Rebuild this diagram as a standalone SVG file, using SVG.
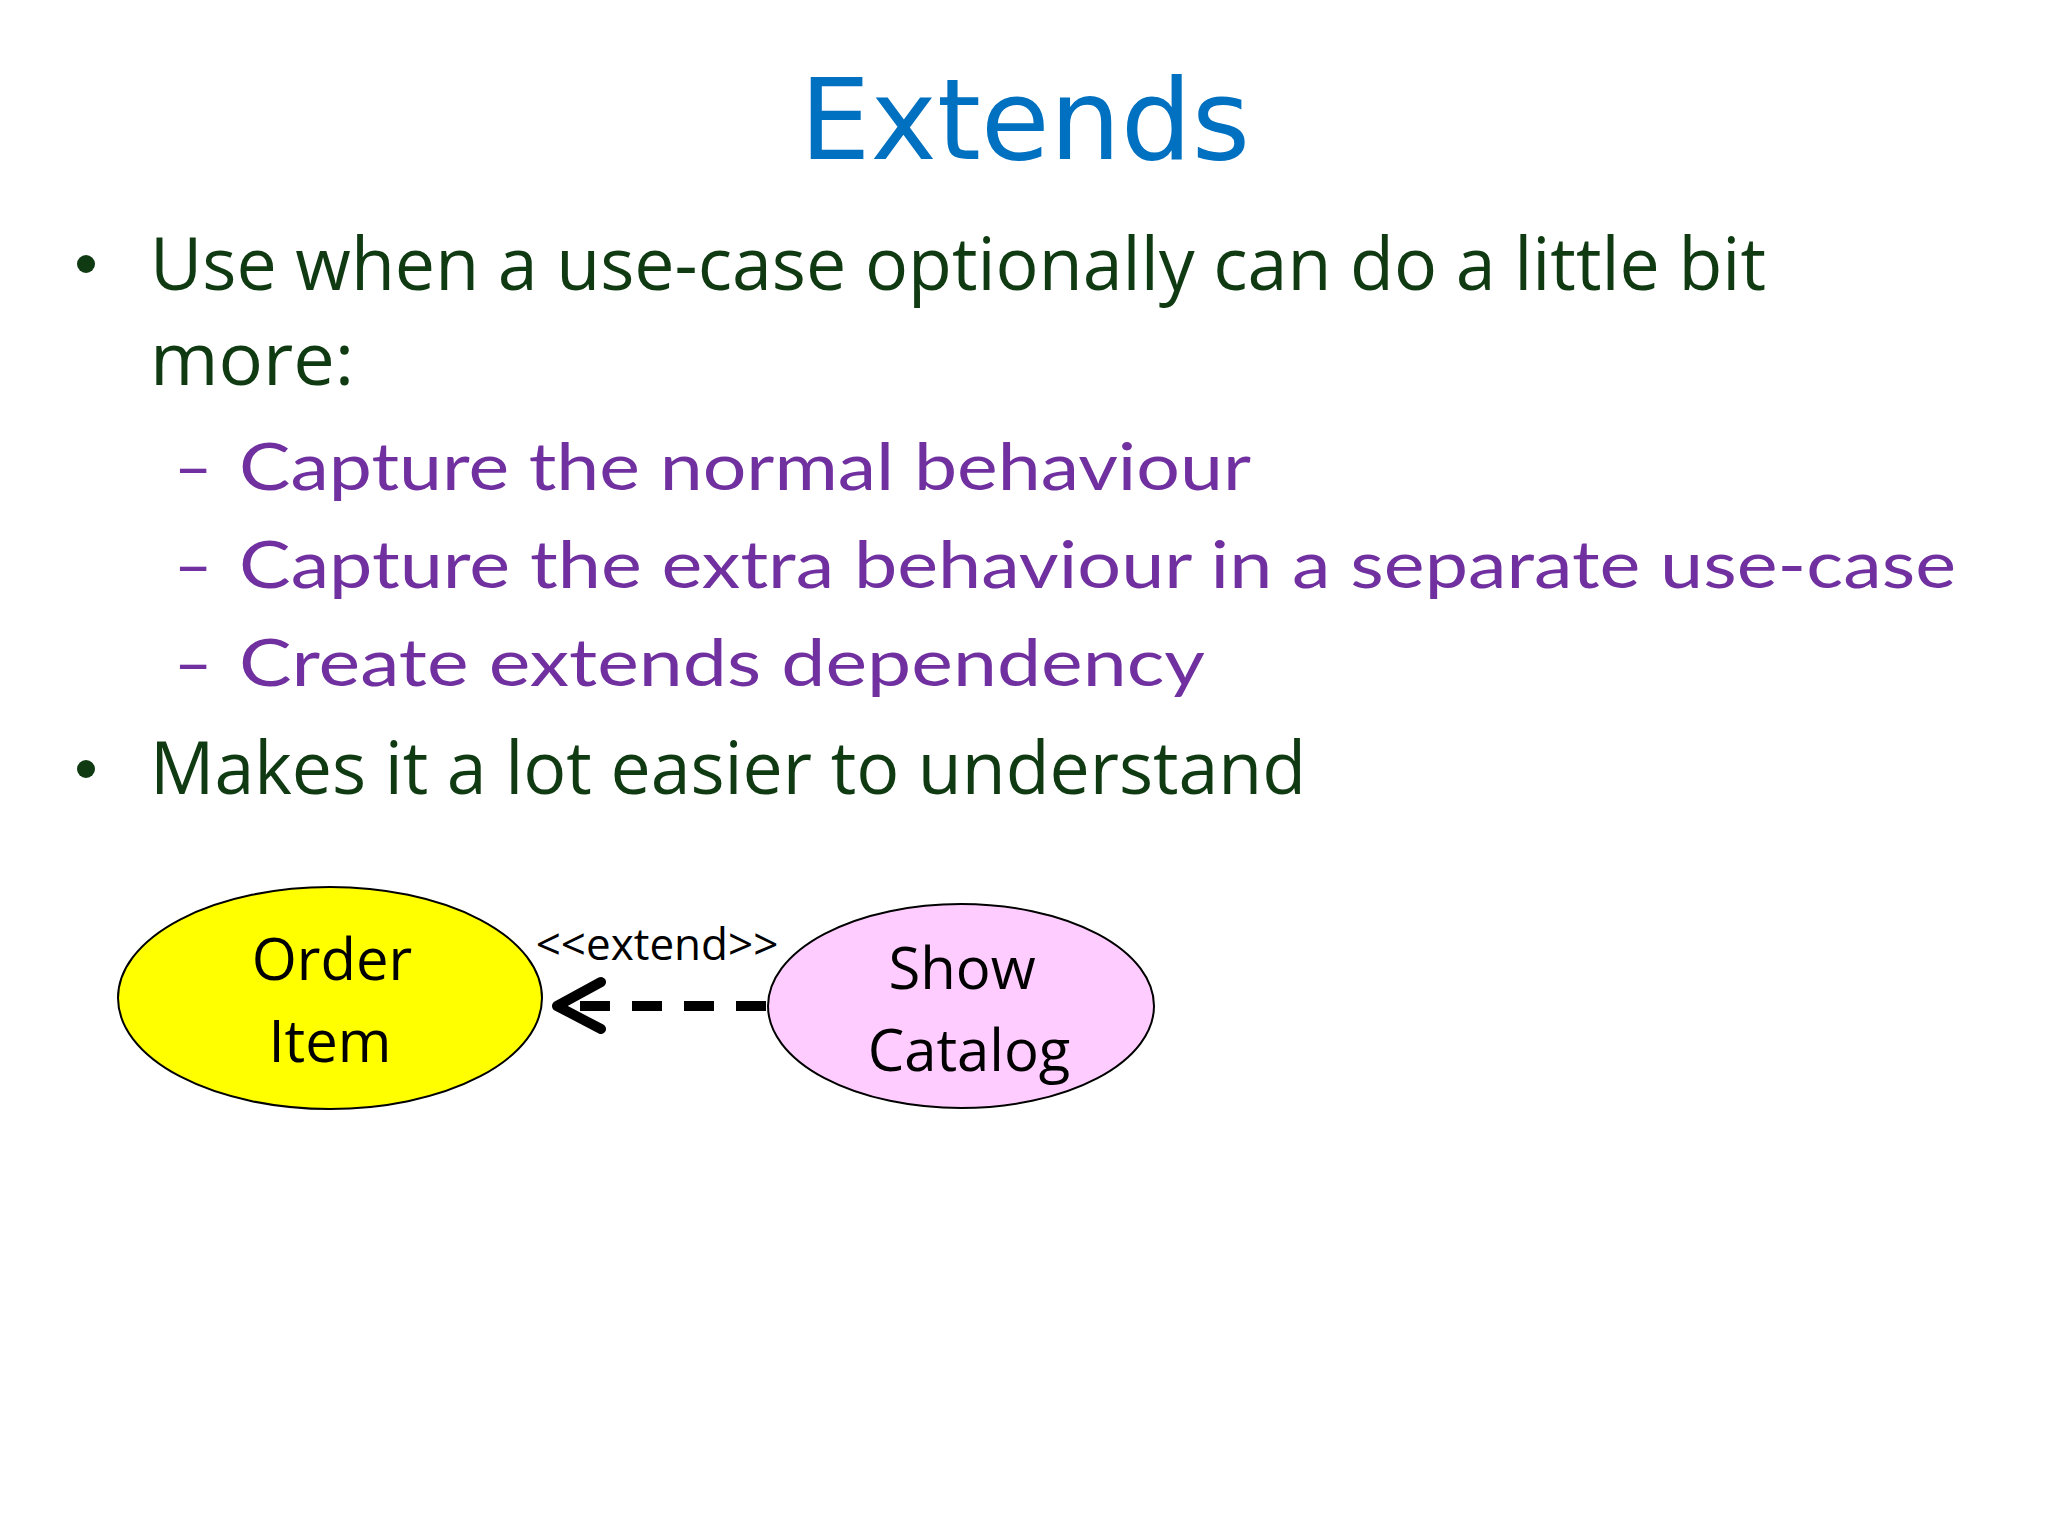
<svg xmlns="http://www.w3.org/2000/svg" width="2048" height="1536" viewBox="0 0 2048 1536">
<style>
.b{font-family:"Open Sans","DejaVu Sans",sans-serif;fill:#0F3A12;font-size:74px}
.s{font-family:"Lato","DejaVu Sans",sans-serif;fill:#7030A0;font-size:66px}
.n{font-family:"Open Sans","DejaVu Sans",sans-serif;fill:#000;font-size:58px;text-anchor:middle}
</style>
<rect width="2048" height="1536" fill="#FFFFFF"/>
<text x="1025" y="159" text-anchor="middle" font-family="'Comic Sans MS','DejaVu Sans',sans-serif" font-size="112" fill="#0070C0">Extends</text>
<g id="text">
<circle cx="86" cy="264" r="9" fill="#0F3A12"/>
<text class="b" x="150" y="290" textLength="1616" lengthAdjust="spacingAndGlyphs">Use when a use-case optionally can do a little bit</text>
<text class="b" x="150" y="385">more:</text>
<text class="s" x="174" y="490">–</text>
<text class="s" x="239" y="490" textLength="1012" lengthAdjust="spacingAndGlyphs">Capture the normal behaviour</text>
<text class="s" x="174" y="588">–</text>
<text class="s" x="239" y="588" textLength="1717" lengthAdjust="spacingAndGlyphs">Capture the extra behaviour in a separate use-case</text>
<text class="s" x="174" y="686">–</text>
<text class="s" x="239" y="686" textLength="966" lengthAdjust="spacingAndGlyphs">Create extends dependency</text>
<circle cx="86" cy="769" r="9" fill="#0F3A12"/>
<text class="b" x="150" y="794" textLength="1156" lengthAdjust="spacingAndGlyphs">Makes it a lot easier to understand</text>
</g>
<g id="order">
<ellipse cx="330" cy="998" rx="212" ry="111" fill="#FFFF00" stroke="#000" stroke-width="2"/>
<text class="n" x="332" y="980">Order</text>
<text class="n" x="330" y="1062">Item</text>
</g>
<g id="catalog">
<ellipse cx="961" cy="1006" rx="193" ry="102" fill="#FFCCFF" stroke="#000" stroke-width="2"/>
<text class="n" x="962" y="989">Show</text>
<text class="n" x="969" y="1071">Catalog</text>
</g>
<g id="connectors">
<line x1="766" y1="1006" x2="560" y2="1006" stroke="#000" stroke-width="10" stroke-dasharray="30,22"/>
<polyline points="601,982 557,1006 601,1029" fill="none" stroke="#000" stroke-width="10" stroke-linecap="round" stroke-linejoin="round"/>
<text x="657" y="960" text-anchor="middle" font-family="'Open Sans','DejaVu Sans',sans-serif" font-size="44" fill="#000">&lt;&lt;extend&gt;&gt;</text>
</g>
</svg>
